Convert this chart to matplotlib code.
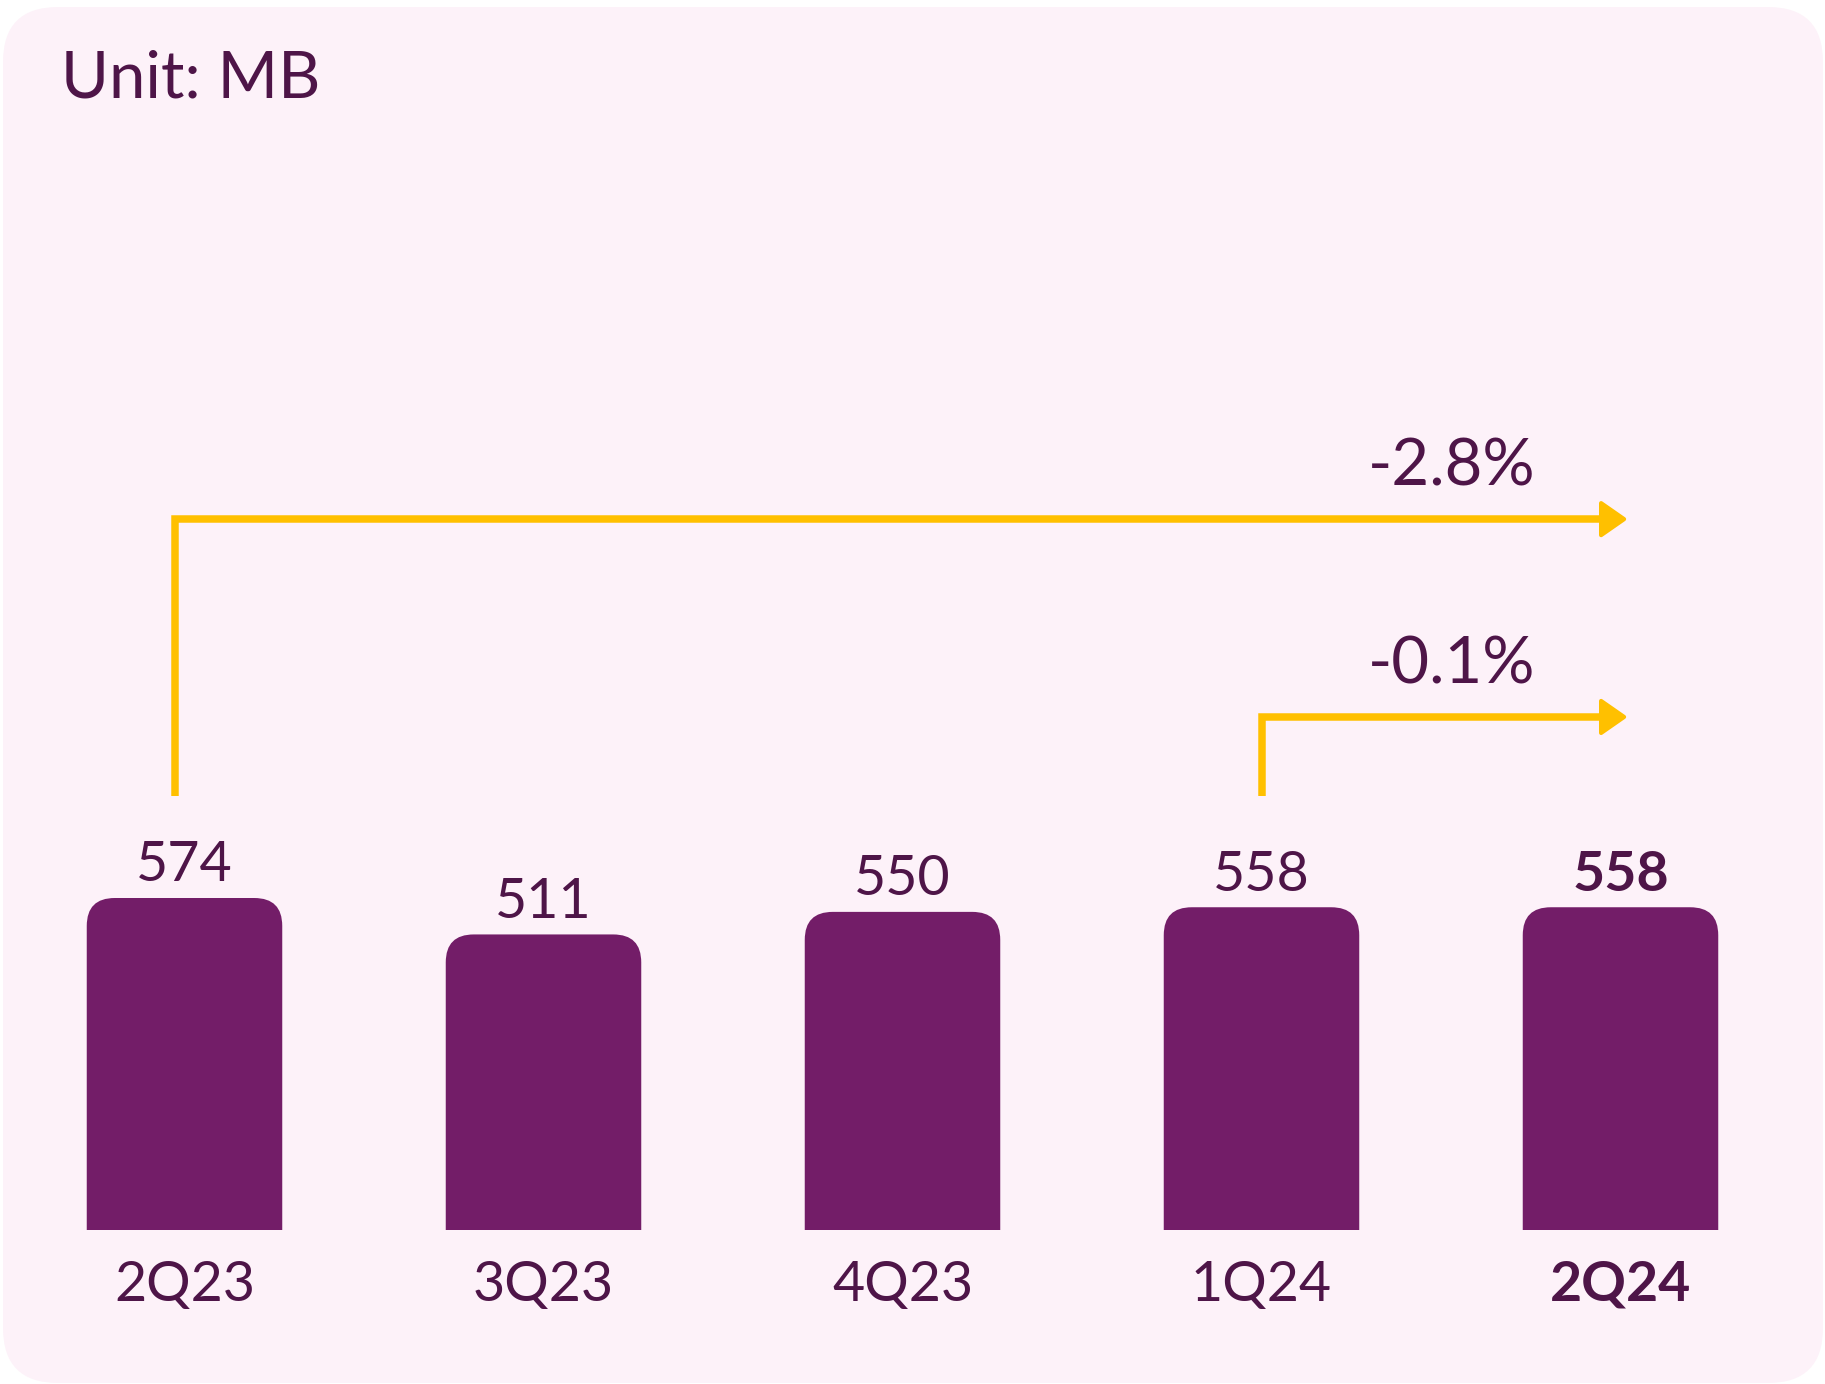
import numpy as np
import matplotlib.pyplot as plt
from matplotlib.patches import PathPatch, FancyBboxPatch, Polygon
from matplotlib.path import Path

# data
quarters = ["2Q23", "3Q23", "4Q23", "1Q24", "2Q24"]
volume_mb = [574, 511, 550, 558, 558]
growth_labels = ["-2.8%", "-0.1%"]
growth_from = [0, 3]
growth_to = 4

# colours
BG = "#FDF2F9"
BAR = "#731D68"
TEXT = "#4E1548"
ARROW = "#FFC000"

plt.rcParams['font.family'] = ['Lato', 'DejaVu Sans']

W, H = 1825, 1384
PX_X = 359.0      # pixels per category step
PX_Y = 0.5784     # pixels per MB
X0, Y0 = 184.5, 154.0

fig = plt.figure(figsize=(W / 100, H / 100), dpi=100)
fig.patch.set_facecolor("white")

# rounded pink card behind the chart
card = FancyBboxPatch((3, 1), W - 5, H - 8,
                      boxstyle="round,pad=0,rounding_size=55",
                      transform=None, facecolor=BG, edgecolor="none", zorder=0)
fig.add_artist(card)

ax = fig.add_axes([0, 0, 1, 1])
ax.set_xlim(-X0 / PX_X, (W - X0) / PX_X)
ax.set_ylim(-Y0 / PX_Y, (H - Y0) / PX_Y)
ax.axis('off')
ax.patch.set_visible(False)

x = np.arange(len(quarters))
bar_w = 195.5 / PX_X
rx, ry = 28 / PX_X, 28 / PX_Y


def rounded_bar(cx, h):
    l, r = cx - bar_w / 2, cx + bar_w / 2
    verts = [(l, 0), (l, h - ry), (l, h), (l + rx, h), (r - rx, h),
             (r, h), (r, h - ry), (r, 0), (l, 0)]
    codes = [Path.MOVETO, Path.LINETO, Path.CURVE3, Path.CURVE3, Path.LINETO,
             Path.CURVE3, Path.CURVE3, Path.LINETO, Path.CLOSEPOLY]
    return PathPatch(Path(verts, codes), facecolor=BAR, edgecolor="none", zorder=2)


for i, v in enumerate(volume_mb):
    ax.add_patch(rounded_bar(x[i], v))
    last = i == len(quarters) - 1
    ax.annotate(str(v), (x[i], v), xytext=(0, 12), textcoords="offset points",
                ha="center", va="baseline", fontsize=40, color=TEXT,
                fontweight="bold" if last else "normal")
    ax.annotate(quarters[i], (x[i], 0), xytext=(0, -51), textcoords="offset points",
                ha="center", va="baseline", fontsize=40, color=TEXT,
                fontweight="bold" if last else "normal")

ax.text(61 / W, 1 - 98 / H, "Unit: MB", transform=ax.transAxes,
        ha="left", va="baseline", fontsize=47, color=TEXT)

# growth arrows
arrow_start = 750
arrow_levels = [1229, 887]
start_offsets = [-0.026, 0.0]
head_len, head_half = 23 / PX_X, 16 / PX_Y
tip = growth_to + 0.01
for src, lvl, off, lab in zip(growth_from, arrow_levels, start_offsets, growth_labels):
    sx = src + off
    ax.plot([sx, sx, tip - head_len * 0.8], [arrow_start, lvl, lvl],
            color=ARROW, lw=5.4, solid_joinstyle="miter", solid_capstyle="butt",
            zorder=3)
    head = Polygon([(tip, lvl), (tip - head_len, lvl + head_half),
                    (tip - head_len, lvl - head_half)], closed=True,
                   facecolor=ARROW, edgecolor=ARROW, lw=3, joinstyle="round",
                   zorder=3)
    ax.add_patch(head)
    ax.annotate(lab, (growth_to - 0.47, lvl), xytext=(0, 24), textcoords="offset points",
                ha="center", va="baseline", fontsize=47, color=TEXT)

fig.savefig("out.png", dpi=100, facecolor="white")
